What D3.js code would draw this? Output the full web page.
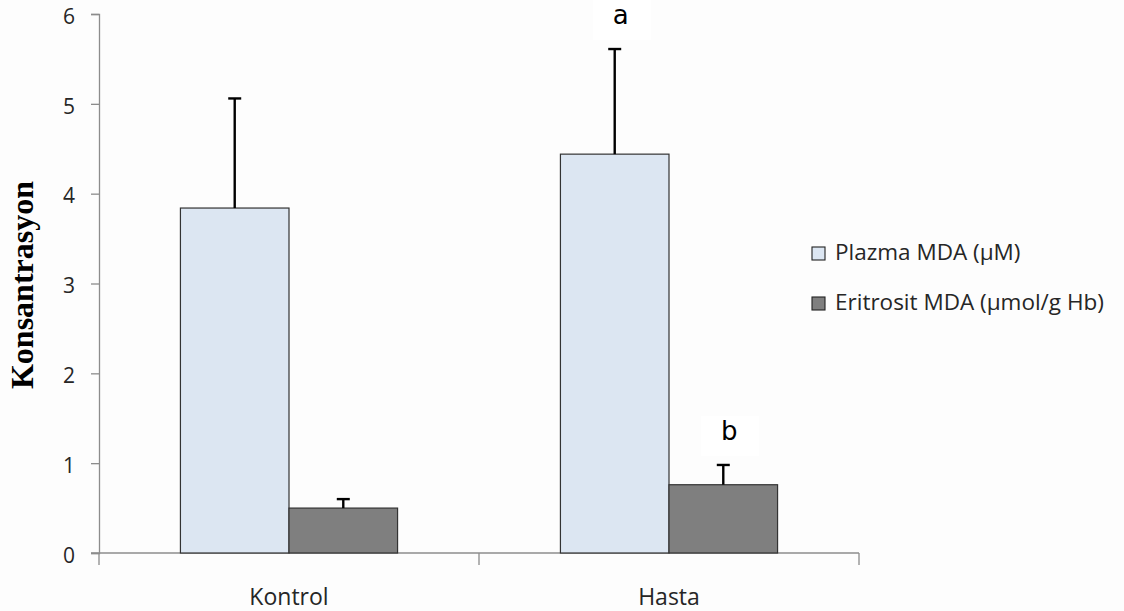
<!DOCTYPE html>
<html>
<head>
<meta charset="utf-8">
<script src="https://cdn.jsdelivr.net/npm/d3@7"></script>
<style>
  html, body { margin: 0; padding: 0; background: #fdfdfd; }
  svg { display: block; }
</style>
</head>
<body>
<svg id="chart" width="1124" height="611"></svg>
<script>
// Groups, series and values
const groups = ["Kontrol", "Hasta"];
const seriesNames = ["Plazma MDA (µM)", "Eritrosit MDA (µmol/g Hb)"];
const seriesColors = ["#dce6f2", "#7f7f7f"];
const plazmaMeans = [3.84, 4.44];
const plazmaSD = [1.22, 1.17];
const eritrositMeans = [0.50, 0.76];
const eritrositSD = [0.10, 0.22];
const yTicks = [0, 1, 2, 3, 4, 5, 6];
// significance letters: group, series index, letter
const sigGroups = ["Hasta", "Hasta"];
const sigSeries = [0, 1];
const sigLetters = ["a", "b"];

const rows = [];
groups.forEach((g, i) => {
  rows.push({ group: g, s: 0, mean: plazmaMeans[i], sd: plazmaSD[i] });
  rows.push({ group: g, s: 1, mean: eritrositMeans[i], sd: eritrositSD[i] });
});

const svg = d3.select("#chart");
const plotLeft = 99, plotRight = 859, plotTop = 14, plotBottom = 553;

const x0 = d3.scaleBand().domain(groups).range([plotLeft, plotRight]).padding(0);
const x1 = d3.scaleBand().domain([0, 1]).range([0, x0.bandwidth()])
  .paddingInner(0).paddingOuter(0.75);
const y = d3.scaleLinear().domain([0, 6]).range([plotBottom, plotTop]);

const axisColor = "#8c8c8c";
const tickFont = "'Open Sans', 'Noto Sans', sans-serif";

// Y axis
const yAxis = svg.append("g")
  .attr("transform", `translate(${plotLeft},0)`)
  .call(d3.axisLeft(y).tickValues(yTicks).tickSize(8).tickPadding(16).tickFormat(d3.format("d")));
yAxis.select(".domain").attr("stroke", axisColor).attr("stroke-width", 1.3);
yAxis.selectAll(".tick line").attr("stroke", axisColor).attr("stroke-width", 1.3);
yAxis.selectAll(".tick text")
  .attr("fill", "#262626")
  .attr("dy", "0.44em")
  .style("font-family", tickFont)
  .style("font-size", "21px");

// X axis: ticks at band boundaries
const xAxisG = svg.append("g").attr("transform", `translate(0,${plotBottom})`);
xAxisG.append("line")
  .attr("x1", plotLeft - 8).attr("x2", plotRight)
  .attr("y1", 0).attr("y2", 0)
  .attr("stroke", axisColor).attr("stroke-width", 1.3);
const boundaries = [plotLeft].concat(groups.map(g => x0(g) + x0.bandwidth()));
xAxisG.selectAll("line.bt").data(boundaries).enter().append("line")
  .attr("class", "bt")
  .attr("x1", d => d).attr("x2", d => d)
  .attr("y1", 0).attr("y2", 12)
  .attr("stroke", axisColor).attr("stroke-width", 1.3);
xAxisG.selectAll("text.cat").data(groups).enter().append("text")
  .attr("class", "cat")
  .attr("x", d => x0(d) + x0.bandwidth() / 2)
  .attr("y", 52)
  .attr("text-anchor", "middle")
  .attr("fill", "#262626")
  .style("font-family", tickFont)
  .style("font-size", "23px")
  .text(d => d);

// Bars
svg.append("g").selectAll("rect").data(rows).enter().append("rect")
  .attr("x", d => x0(d.group) + x1(d.s))
  .attr("y", d => y(d.mean))
  .attr("width", x1.bandwidth())
  .attr("height", d => y(0) - y(d.mean))
  .attr("fill", d => seriesColors[d.s])
  .attr("stroke", "#333")
  .attr("stroke-width", 1.2);

// Error bars (upper only)
const eb = svg.append("g");
const cap = 6.5;
rows.forEach(d => {
  const cx = x0(d.group) + x1(d.s) + x1.bandwidth() / 2;
  eb.append("line")
    .attr("x1", cx).attr("x2", cx)
    .attr("y1", y(d.mean)).attr("y2", y(d.mean + d.sd))
    .attr("stroke", "#000").attr("stroke-width", 2.4);
  eb.append("line")
    .attr("x1", cx - cap).attr("x2", cx + cap)
    .attr("y1", y(d.mean + d.sd)).attr("y2", y(d.mean + d.sd))
    .attr("stroke", "#000").attr("stroke-width", 2.4);
});

// Significance letters
const lg = svg.append("g");
sigLetters.forEach((l, i) => {
  const r = rows.find(d => d.group === sigGroups[i] && d.s === sigSeries[i]);
  const cx = x0(r.group) + x1(r.s) + x1.bandwidth() / 2;
  const by = y(r.mean + r.sd) - 25;
  lg.append("rect")
    .attr("x", cx - 22).attr("y", Math.max(0, by - 24))
    .attr("width", 58).attr("height", 40)
    .attr("fill", "#ffffff");
  lg.append("text")
    .attr("x", cx + 6).attr("y", by)
    .attr("text-anchor", "middle")
    .attr("fill", "#000")
    .style("font-family", "'DejaVu Sans', sans-serif")
    .style("font-size", "26px")
    .text(l);
});

// Y axis title
svg.append("text")
  .attr("transform", `translate(33,${(177 + 393) / 2}) rotate(-90)`)
  .attr("text-anchor", "middle")
  .attr("fill", "#000")
  .style("font-family", "'Liberation Serif', 'Times New Roman', serif")
  .style("font-weight", "bold")
  .style("font-size", "32px")
  .text("Konsantrasyon");

// Legend
const legend = svg.append("g").attr("transform", "translate(812,247)");
seriesNames.forEach((name, i) => {
  const gi = legend.append("g").attr("transform", `translate(0,${i * 50})`);
  gi.append("rect")
    .attr("x", 0).attr("y", 0).attr("width", 13).attr("height", 13)
    .attr("fill", seriesColors[i]).attr("stroke", "#222").attr("stroke-width", 1.1);
  gi.append("text")
    .attr("x", 23).attr("y", 13)
    .attr("fill", "#262626")
    .style("font-family", tickFont)
    .style("font-size", "22.5px")
    .text(name);
});
</script>
</body>
</html>
